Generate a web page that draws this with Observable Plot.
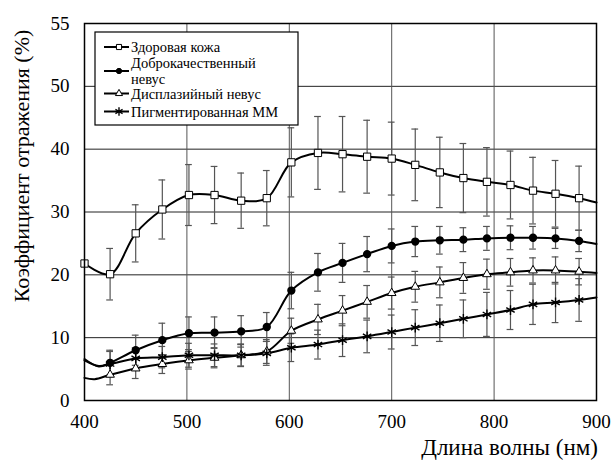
<!DOCTYPE html>
<html><head><meta charset="utf-8">
<script src="https://cdn.jsdelivr.net/npm/d3@7"></script>
<script src="https://cdn.jsdelivr.net/npm/@observablehq/plot@0.6"></script>
<style>body{margin:0;background:#fff;} #chart{width:614px;height:461px;}
#chart svg, #chart svg text{font-family:"Liberation Serif","DejaVu Serif",serif !important;}</style>
</head><body><div id="chart"></div>
<script>
// ---- data ----
const wavelengths = [425,450,476,502,527,553,578,602,628,652,676,700,723,747,770,793,816,838,860,883];

const healthy    = [20.1,26.6,30.4,32.7,32.7,31.8,32.2,37.9,39.4,39.2,38.8,38.5,37.5,36.3,35.4,34.8,34.3,33.4,32.9,32.2];
const healthyErr = [4.1,4.55,4.7,4.85,4.55,4.4,4.4,5.5,5.8,6.0,5.8,5.8,5.7,5.6,5.5,5.45,5.4,5.3,5.3,5.1];
const benign     = [6.0,8.0,9.6,10.7,10.8,11.0,11.7,17.5,20.4,21.9,23.3,24.6,25.3,25.5,25.6,25.8,25.9,25.9,25.8,25.4];
const benignErr  = [2.0,2.4,2.7,2.6,2.5,2.5,2.3,2.9,3.0,3.1,2.8,2.7,2.4,2.2,1.9,1.9,1.9,1.8,1.6,1.7];
const dysplastic    = [4.1,5.1,5.8,6.4,6.8,7.2,7.8,11.1,12.9,14.3,15.7,17.1,18.1,18.8,19.5,20.1,20.4,20.7,20.7,20.5];
const dysplasticErr = [1.6,1.6,1.5,1.4,1.6,1.7,1.9,2.0,2.4,2.4,2.6,2.55,2.45,2.45,2.45,2.4,2.2,2.0,2.15,2.1];
const melanoma    = [5.8,6.7,6.9,7.2,7.2,7.2,7.5,8.4,8.9,9.6,10.2,10.9,11.6,12.3,13.0,13.7,14.4,15.3,15.6,16.0];
const melanomaErr = [2.0,1.7,1.7,1.9,1.8,1.8,1.9,2.2,2.3,2.6,2.6,2.7,2.85,2.9,3.0,3.5,3.1,3.2,3.2,3.4];

// curve points outside the marker positions (line ends and the dip near 410 nm)
const healthyEdgeX = [400, 900];          const healthyEdgeY = [21.8, 31.5];
const benignEdgeX = [400, 414, 900];      const benignEdgeY = [6.6, 5.4, 24.9];
const dysplasticEdgeX = [400, 410, 900];  const dysplasticEdgeY = [3.6, 3.4, 20.3];
const melanomaEdgeX = [400, 414, 900];    const melanomaEdgeY = [6.4, 5.5, 16.4];
const healthyExtraMarkerX = [400];        const healthyExtraMarkerY = [21.8];

const seriesNames = ["Здоровая кожа", "Доброкачественный невус", "Дисплазийный невус", "Пигментированная ММ"];
const legendLines = [["Здоровая кожа"], ["Доброкачественный", "невус"], ["Дисплазийный невус"], ["Пигментированная ММ"]];
const xTicks = [400,500,600,700,800,900];
const yTicks = [0,10,20,30,40,50,60];
const yTickLabels = ["0","10","20","30","40","50","55"];
const xGrid = [500,600,700,800];
const yGrid = [10,20,30,40,50];
const xTitle = "Длина волны (нм)";
const yTitle = "Коэффициент отражения (%)";

// ---- build tables ----
function pointRows(name, vals, errs) {
  return wavelengths.map((x, i) => ({name, x, y: vals[i], lo: vals[i] - errs[i], hi: vals[i] + errs[i]}));
}
function lineRows(name, vals, ex, ey) {
  const pts = wavelengths.map((x, i) => ({name, x, y: vals[i]}));
  ex.forEach((x, i) => pts.push({name, x, y: ey[i]}));
  return pts.sort((a, b) => a.x - b.x);
}
const pH = pointRows(seriesNames[0], healthy, healthyErr);
const pB = pointRows(seriesNames[1], benign, benignErr);
const pD = pointRows(seriesNames[2], dysplastic, dysplasticErr);
const pM = pointRows(seriesNames[3], melanoma, melanomaErr);
const allPts = [...pH, ...pB, ...pD, ...pM];
const lines = [
  ...lineRows(seriesNames[0], healthy, healthyEdgeX, healthyEdgeY),
  ...lineRows(seriesNames[1], benign, benignEdgeX, benignEdgeY),
  ...lineRows(seriesNames[2], dysplastic, dysplasticEdgeX, dysplasticEdgeY),
  ...lineRows(seriesNames[3], melanoma, melanomaEdgeX, melanomaEdgeY)
];
const hMarkers = [...healthyExtraMarkerX.map((x, i) => ({x, y: healthyExtraMarkerY[i]})), ...pH];
const capHalf = 3.3;
const font = "Liberation Serif, DejaVu Serif, serif";

const chart = Plot.plot({
  width: 614, height: 461,
  marginLeft: 84, marginRight: 18, marginTop: 23, marginBottom: 61,
  style: {fontFamily: font, background: "white", color: "black"},
  x: {domain: [400, 900]},
  y: {domain: [0, 60]},
  marks: [
    Plot.ruleY(yGrid, {stroke: "#222", strokeWidth: 1}),
    Plot.ruleX(xGrid, {stroke: "#555", strokeWidth: 1}),
    Plot.ruleX(allPts, {x: "x", y1: "lo", y2: "hi", stroke: "#555", strokeWidth: 1.2}),
    Plot.ruleY(allPts, {y: "hi", x1: d => d.x - capHalf, x2: d => d.x + capHalf, stroke: "#555", strokeWidth: 1.2}),
    Plot.ruleY(allPts, {y: "lo", x1: d => d.x - capHalf, x2: d => d.x + capHalf, stroke: "#555", strokeWidth: 1.2}),
    Plot.line(lines, {x: "x", y: "y", z: "name", curve: "catmull-rom", stroke: "black", strokeWidth: 2}),
    Plot.dot(hMarkers, {x: "x", y: "y", symbol: "square", r: 4.1, fill: "white", stroke: "black", strokeWidth: 1}),
    Plot.dot(pB, {x: "x", y: "y", symbol: "circle", r: 3.4, fill: "black", stroke: "black"}),
    Plot.dot(pD, {x: "x", y: "y", symbol: "triangle", r: 3.2, fill: "white", stroke: "black", strokeWidth: 1}),
    Plot.dot(pM, {x: "x", y: "y", symbol: "asterisk", r: 4.6, stroke: "black", strokeWidth: 1.4}),
    Plot.frame({stroke: "black", strokeWidth: 1.5}),
    Plot.axisX(xTicks, {tickSize: 0, tickPadding: 14, fontSize: 19, label: null}),
    Plot.axisY(yTicks, {tickSize: 0, tickPadding: 15, fontSize: 19, label: null,
      tickFormat: d => yTickLabels[yTicks.indexOf(d)]})
  ]
});
document.getElementById("chart").appendChild(chart);

// ---- axis titles and legend ----
const svg = d3.select(chart);
svg.append("text").text(yTitle)
  .attr("transform", "translate(21.5,166) rotate(-90)")
  .attr("text-anchor", "middle").attr("dominant-baseline", "central")
  .attr("font-size", 22).attr("fill", "black");
svg.append("text").text(xTitle)
  .attr("x", 598).attr("y", 447)
  .attr("text-anchor", "end").attr("dominant-baseline", "central")
  .attr("font-size", 23).attr("fill", "black");

const lg = svg.append("g").attr("font-size", 14.5).attr("text-anchor", "start");
lg.append("rect").attr("x", 95).attr("y", 32).attr("width", 203).attr("height", 93)
  .attr("fill", "white").attr("stroke", "black").attr("stroke-width", 1.2);
const rowY = [47, 71, 93.5, 111.5];
const textY = [[47], [63, 78.5], [94], [111.5]];
const syms = [d3.symbolSquare, d3.symbolCircle, d3.symbolTriangle, d3.symbolAsterisk];
const symFill = ["white", "black", "white", "none"];
const symSize = [26, 22, 22, 48];
seriesNames.forEach((name, i) => {
  lg.append("line").attr("x1", 104).attr("x2", 129).attr("y1", rowY[i]).attr("y2", rowY[i])
    .attr("stroke", "black").attr("stroke-width", 2);
  lg.append("path").attr("d", d3.symbol(syms[i], symSize[i])())
    .attr("transform", `translate(119,${rowY[i]})`)
    .attr("fill", symFill[i]).attr("stroke", "black").attr("stroke-width", i === 3 ? 1.4 : 1);
  legendLines[i].forEach((t, j) => {
    lg.append("text").text(t).attr("x", 131).attr("y", textY[i][j])
      .attr("text-anchor", "start").attr("dominant-baseline", "central").attr("fill", "black");
  });
});
</script>
</body></html>
